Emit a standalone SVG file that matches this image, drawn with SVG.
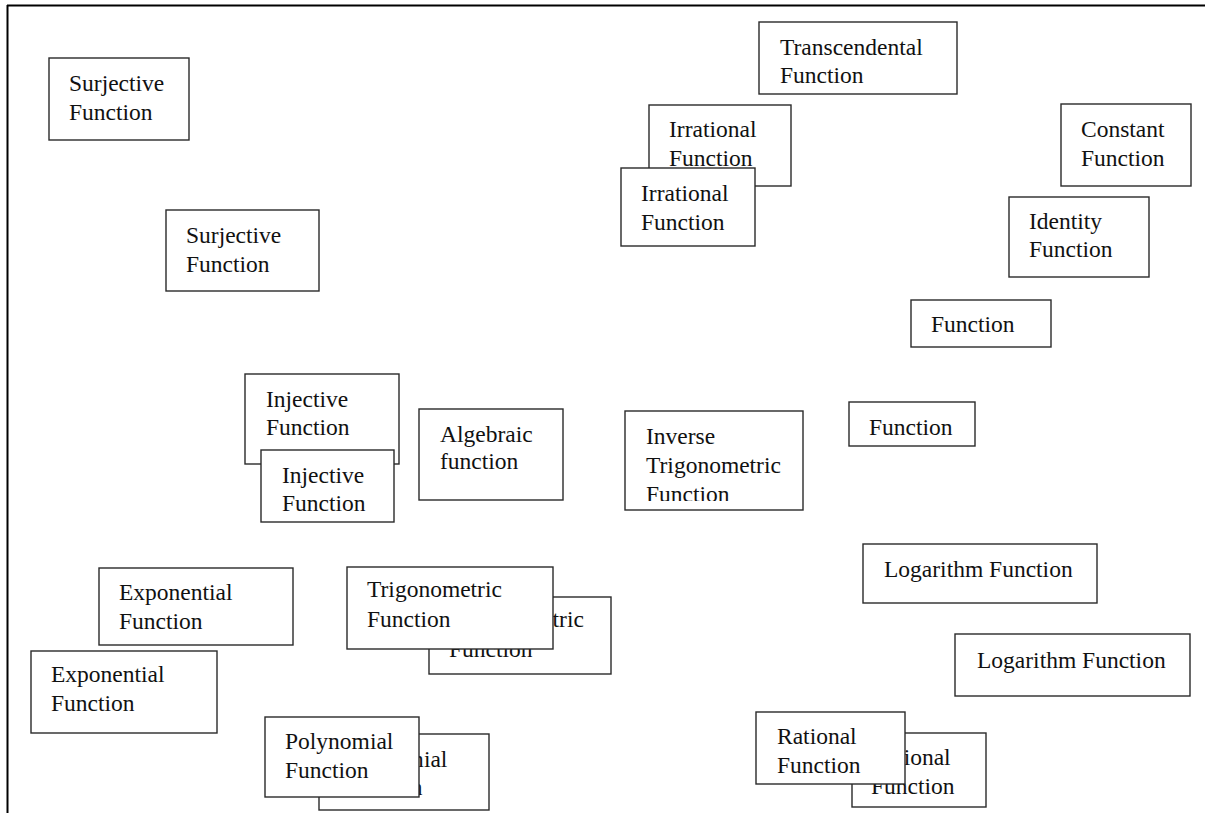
<svg xmlns="http://www.w3.org/2000/svg" width="1208" height="813" viewBox="0 0 1208 813">
  <style>
    .box { fill: #ffffff; stroke: #2a2a2a; stroke-width: 1.4; }
    .lbl { font-family: "Liberation Serif", "Times New Roman", serif; font-size: 23.5px; fill: #111111; }
    .frame { stroke: #000000; stroke-width: 2; fill: none; }
  </style>
  <defs>
    <clipPath id="clip-inverse">
      <rect x="625" y="410" width="179" height="91"/>
    </clipPath>
  </defs>

  <rect width="1208" height="813" fill="#ffffff"/>

  <!-- page frame: top and left edges -->
  <g id="frame">
    <line class="frame" x1="7" y1="5.5" x2="1205" y2="5.5"/>
    <line class="frame" x1="7.5" y1="5" x2="7.5" y2="813"/>
  </g>

  <!-- no connectors in this layout -->
  <g id="connectors"/>

  <g id="surjective-1">
    <rect class="box" x="49" y="58" width="140" height="82"/>
    <text class="lbl" x="69" y="91">Surjective</text>
    <text class="lbl" x="69" y="120">Function</text>
  </g>

  <g id="surjective-2">
    <rect class="box" x="166" y="210" width="153" height="81"/>
    <text class="lbl" x="186" y="243">Surjective</text>
    <text class="lbl" x="186" y="272">Function</text>
  </g>

  <g id="transcendental">
    <rect class="box" x="759" y="22" width="198" height="72"/>
    <text class="lbl" x="780" y="55">Transcendental</text>
    <text class="lbl" x="780" y="83">Function</text>
  </g>

  <g id="irrational-1">
    <rect class="box" x="649" y="105" width="142" height="81"/>
    <text class="lbl" x="669" y="137">Irrational</text>
    <text class="lbl" x="669" y="166">Function</text>
  </g>

  <g id="irrational-2">
    <rect class="box" x="621" y="168" width="134" height="78"/>
    <text class="lbl" x="641" y="201">Irrational</text>
    <text class="lbl" x="641" y="230">Function</text>
  </g>

  <g id="constant">
    <rect class="box" x="1061" y="104" width="130" height="82"/>
    <text class="lbl" x="1081" y="137">Constant</text>
    <text class="lbl" x="1081" y="166">Function</text>
  </g>

  <g id="identity">
    <rect class="box" x="1009" y="197" width="140" height="80"/>
    <text class="lbl" x="1029" y="229">Identity</text>
    <text class="lbl" x="1029" y="257">Function</text>
  </g>

  <g id="function-1">
    <rect class="box" x="911" y="300" width="140" height="47"/>
    <text class="lbl" x="931" y="332">Function</text>
  </g>

  <g id="function-2">
    <rect class="box" x="849" y="402" width="126" height="44"/>
    <text class="lbl" x="869" y="435">Function</text>
  </g>

  <g id="injective-1">
    <rect class="box" x="245" y="374" width="154" height="90"/>
    <text class="lbl" x="266" y="407">Injective</text>
    <text class="lbl" x="266" y="435">Function</text>
  </g>

  <g id="injective-2">
    <rect class="box" x="261" y="450" width="133" height="72"/>
    <text class="lbl" x="282" y="483">Injective</text>
    <text class="lbl" x="282" y="511">Function</text>
  </g>

  <g id="algebraic">
    <rect class="box" x="419" y="409" width="144" height="91"/>
    <text class="lbl" x="440" y="442">Algebraic</text>
    <text class="lbl" x="440" y="469">function</text>
  </g>

  <g id="inverse-trigonometric">
    <rect class="box" x="625" y="411" width="178" height="99"/>
    <g clip-path="url(#clip-inverse)">
      <text class="lbl" x="646" y="444">Inverse</text>
      <text class="lbl" x="646" y="473">Trigonometric</text>
      <text class="lbl" x="646" y="502">Function</text>
    </g>
  </g>

  <g id="logarithm-1">
    <rect class="box" x="863" y="544" width="234" height="59"/>
    <text class="lbl" x="884" y="577">Logarithm Function</text>
  </g>

  <g id="logarithm-2">
    <rect class="box" x="955" y="634" width="235" height="62"/>
    <text class="lbl" x="977" y="668">Logarithm Function</text>
  </g>

  <g id="exponential-1">
    <rect class="box" x="99" y="568" width="194" height="77"/>
    <text class="lbl" x="119" y="600">Exponential</text>
    <text class="lbl" x="119" y="629">Function</text>
  </g>

  <g id="exponential-2">
    <rect class="box" x="31" y="651" width="186" height="82"/>
    <text class="lbl" x="51" y="682">Exponential</text>
    <text class="lbl" x="51" y="711">Function</text>
  </g>

  <g id="trigonometric-1">
    <rect class="box" x="429" y="597" width="182" height="77"/>
    <text class="lbl" x="449" y="627">Trigonometric</text>
    <text class="lbl" x="449" y="657">Function</text>
  </g>

  <g id="trigonometric-2">
    <rect class="box" x="347" y="567" width="206" height="82"/>
    <text class="lbl" x="367" y="597">Trigonometric</text>
    <text class="lbl" x="367" y="627">Function</text>
  </g>

  <g id="polynomial-1">
    <rect class="box" x="319" y="734" width="170" height="76"/>
    <text class="lbl" x="339" y="767">Polynomial</text>
    <text class="lbl" x="339" y="795">Function</text>
  </g>

  <g id="polynomial-2">
    <rect class="box" x="265" y="717" width="154" height="80"/>
    <text class="lbl" x="285" y="749">Polynomial</text>
    <text class="lbl" x="285" y="778">Function</text>
  </g>

  <g id="rational-1">
    <rect class="box" x="852" y="733" width="134" height="74"/>
    <text class="lbl" x="871" y="765">Rational</text>
    <text class="lbl" x="871" y="794">Function</text>
  </g>

  <g id="rational-2">
    <rect class="box" x="756" y="712" width="149" height="72"/>
    <text class="lbl" x="777" y="744">Rational</text>
    <text class="lbl" x="777" y="773">Function</text>
  </g>
</svg>
